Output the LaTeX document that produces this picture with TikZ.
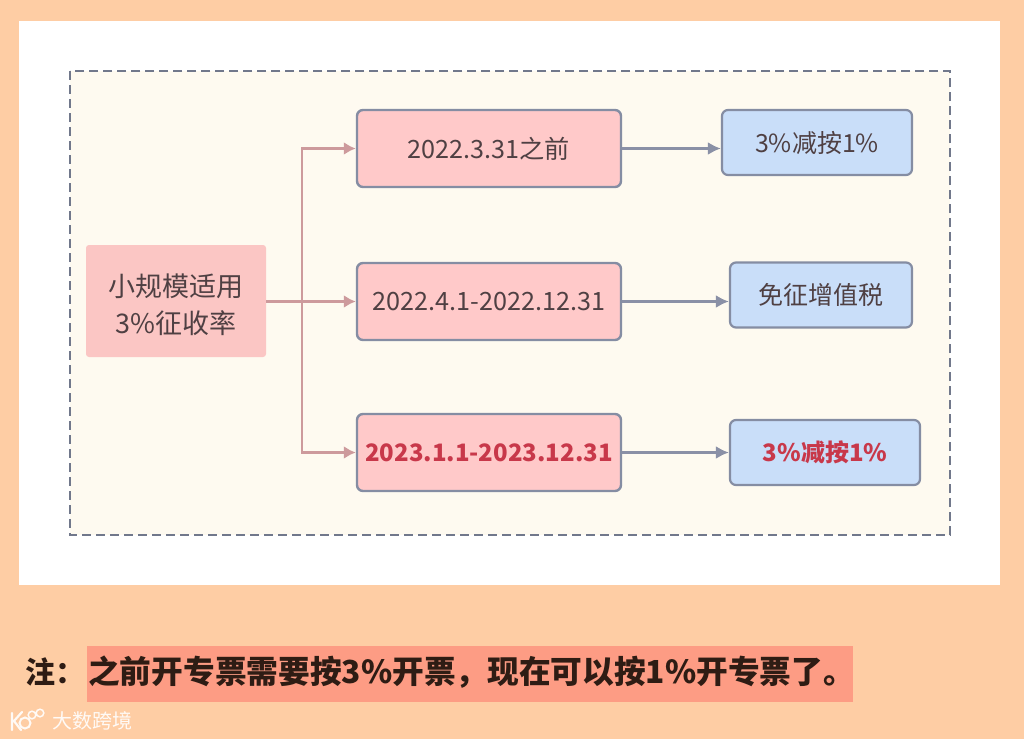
\documentclass[tikz,border=0pt]{standalone}
\usepackage{fontspec}
\setmainfont{Noto Sans CJK SC}
\usetikzlibrary{arrows.meta}
\definecolor{bgo}{HTML}{FECDA4}
\definecolor{panelw}{HTML}{FFFFFF}
\definecolor{innerc}{HTML}{FEFAF0}
\definecolor{pinkf}{HTML}{FFC9C9}
\definecolor{srcf}{HTML}{FBC6C4}
\definecolor{bluef}{HTML}{C9DEF9}
\definecolor{edgeg}{HTML}{858DA3}
\definecolor{pinkl}{HTML}{CD9A9C}
\definecolor{greyl}{HTML}{8A90A6}
\definecolor{txt}{HTML}{4F4043}
\definecolor{redt}{HTML}{C8384A}
\definecolor{hlt}{HTML}{FD9C84}
\definecolor{darkt}{HTML}{2E1C14}
\tikzset{
  x=1pt,y=-1pt,
  srcbox/.style={fill=srcf,rounded corners=3pt,minimum width=180pt,minimum height=112pt,inner sep=0pt,align=center,text=txt,font=\fontsize{27}{37}\selectfont},
  midbox/.style={draw=edgeg,line width=2.4pt,fill=pinkf,rounded corners=6pt,minimum width=264pt,minimum height=77pt,inner sep=0pt,text=txt,font=\fontsize{25.2}{30}\selectfont},
  endbox/.style={draw=edgeg,line width=2.2pt,fill=bluef,rounded corners=6pt,minimum height=65pt,inner sep=0pt,text=txt,font=\fontsize{25}{30}\selectfont},
  pinkarrow/.style={draw=pinkl,line width=2.6pt,-{Latex[length=12pt,width=13pt]}},
  greyarrow/.style={draw=greyl,line width=2.6pt,-{Latex[length=13pt,width=13pt]}},
  hotlabel/.style={text=redt,font=\fontsize{24}{30}\selectfont\bfseries}
}
\begin{document}
\begin{tikzpicture}
\useasboundingbox (0,0) rectangle (1024,739);
\fill[bgo] (0,0) rectangle (1024,739);
\fill[panelw] (19,21) rectangle (1000,585);
\draw[draw=edgeg!85!black,line width=2pt,dash pattern=on 9pt off 5pt,fill=innerc] (70,71) rectangle (950,535);

\node[srcbox] (src) at (176,301) {\rule{0pt}{30pt}小规模适用\\3\%征收率};
\node[midbox] (b1) at (489,148.5) {2022.3.31之前};
\node[midbox] (b2) at (489,301.5) {2022.4.1-2022.12.31};
\node[midbox,hotlabel] (b3) at (489,452.5) {2023.1.1-2023.12.31};
\node[endbox,minimum width=190pt] (r1) at (817,142.5) {3\%减按1\%};
\node[endbox,minimum width=182pt] (r2) at (821,295) {免征增值税};
\node[endbox,minimum width=190pt,hotlabel] (r3) at (825,452.5) {3\%减按1\%};

\coordinate (jn) at (302,301.5);
\draw[draw=pinkl,line width=2.6pt] (src.east |- jn) -- (jn);
\draw[pinkarrow] (jn) |- (b1.west);
\draw[pinkarrow] (jn) -- (b2.west);
\draw[pinkarrow] (jn) |- (b3.west);
\draw[greyarrow] (b1.east) -- (b1.east -| r1.west);
\draw[greyarrow] (b2.east) -- (b2.east -| r2.west);
\draw[greyarrow] (b3.east) -- (r3.west);

\node[anchor=west,fill=hlt,minimum width=766pt,minimum height=56pt,inner sep=0pt,text=darkt] (hl) at (87,674) {};
\node[anchor=west,inner sep=0pt,text=darkt,font=\fontsize{30}{36}\selectfont\bfseries] (note) at (25,672) {注：};
\node[anchor=west,inner sep=0pt,text=darkt,font=\fontsize{31.7}{36}\selectfont\bfseries] (hltext) at (88,672) {之前开专票需要按3\%开票，现在可以按1\%开专票了。};

\draw[white!90!bgo,line width=2.2pt,line cap=round] (12,713) -- (12,730) (22,712) -- (14,721) -- (21,730);
\draw[white!90!bgo,line width=2pt] (25,723) circle (5.5pt);
\draw[white!90!bgo,line width=1.5pt] (32,715) circle (3.8pt) (40,713) circle (3.8pt);
\node[anchor=west,inner sep=0pt,text=white!90!bgo,font=\fontsize{20}{24}\selectfont] (mark) at (52,721) {大数跨境};
\end{tikzpicture}
\end{document}
